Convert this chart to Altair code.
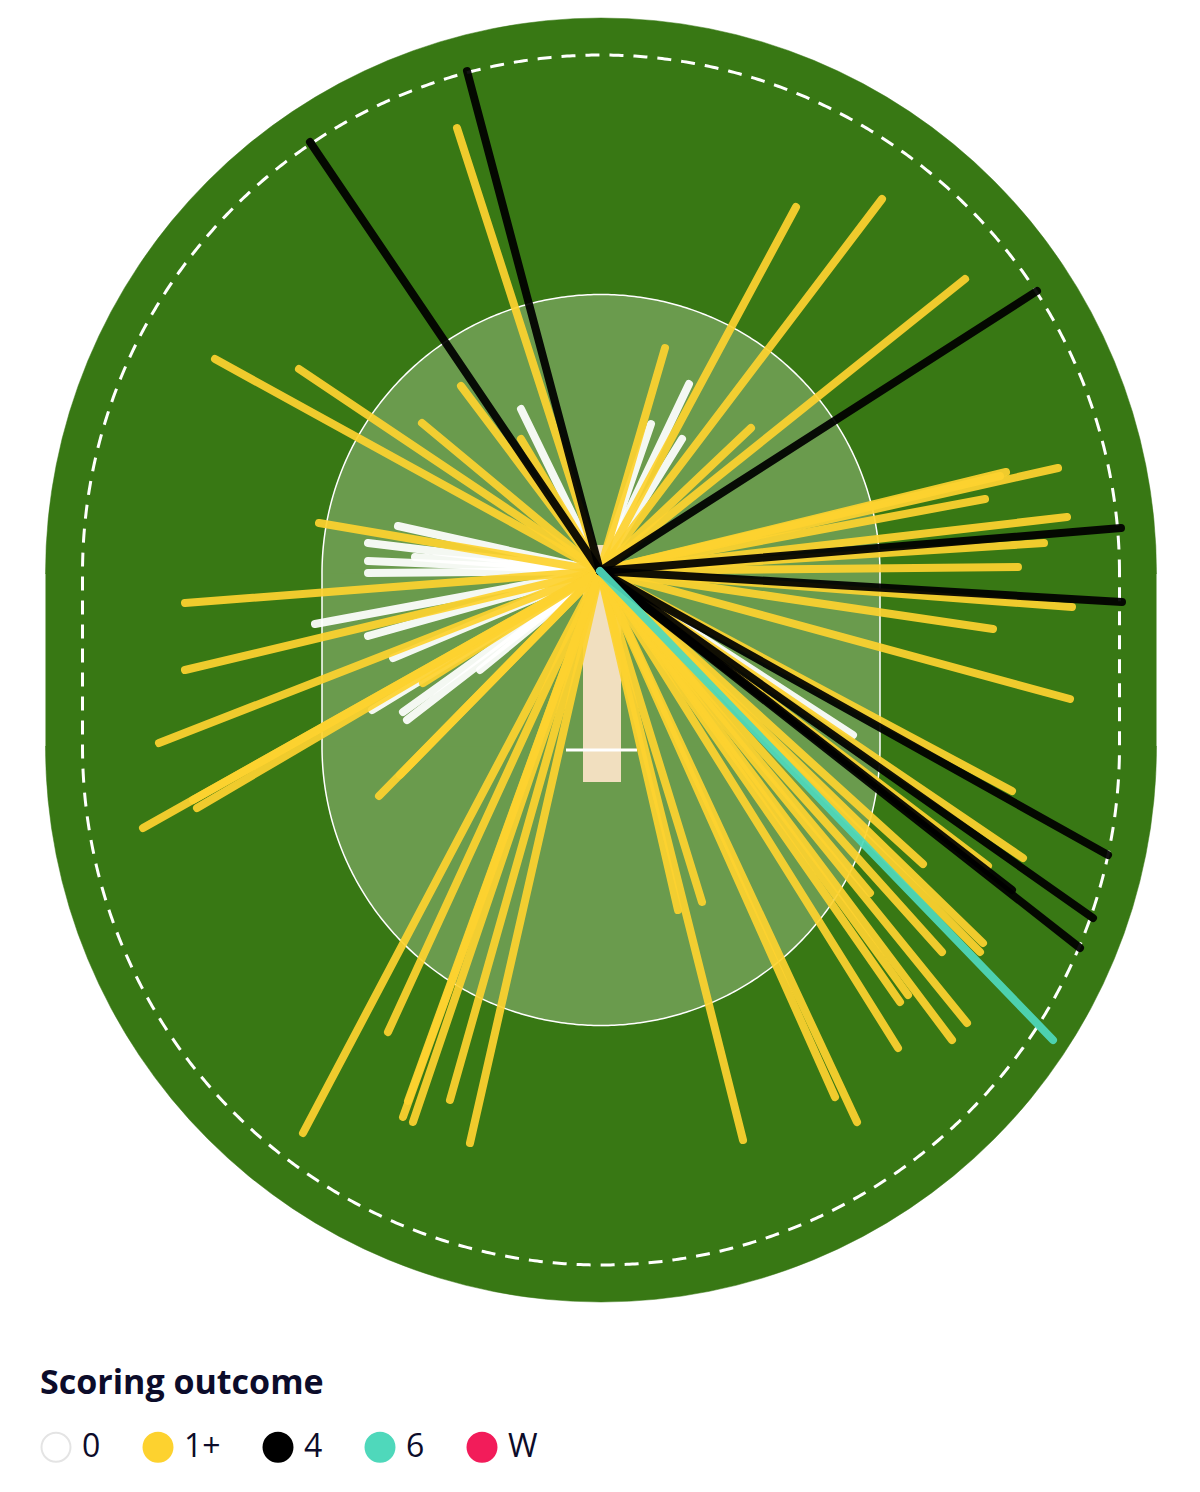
import altair as alt
import numpy as np
import pandas as pd

# ---------------- data: shot landing points relative to the striker ----------------
# x to the right (off side of the picture), y up the picture (towards the bowler)
dots_x = [-79, 89, 51, 82, -202, -232, -185, -232, -232, -285, -232, -207, -228, -197, -193, -120, 253]
dots_y = [162, 187, 147, 132, 45, 28, 14, 10, -2, -53, -65, -87, -139, -141, -149, -99, -164]

singles_x = [-143, -385, -301, -139, -178, -79, -281,
             -415, -415, -441, -457, -403, -407, -221, -200, -177,
             -297, -212, -197, -187, -150, -130, -192,
             78, 102, 143, 235, 257, 298, 300, 308, 352, 367, 342, 383, 380, 323, 270, 388, 423, 412,
             470, 393, 472, 418, 444, 467, 385, 458, 406, 400,
             365, 282, 196, 65, 151]
singles_y = [443, 212, 202, 185, 148, 132, 48,
             -32, -99, -172, -257, -237, -229, -225, -204, -112,
             -562, -461, -546, -551, -529, -572, -530,
             -339, -331, -569, -526, -551, -477, -431, -424, -469, -452, -381, -372, -381, -293, -322, -295, -287, -220,
             -128, -58, -36, 4, 28, 54, 72, 103, 99, 95,
             292, 372, 364, 223, 143]

fours_x = [-133, -290, 437, 521, 522, 508, 493, 480, 412]
fours_y = [500, 429, 280, 43, -31, -284, -347, -377, -319]

sixes_x = [453]
sixes_y = [-469]

outcomes = ["0", "1+", "4", "6", "W"]
outcome_colors = ["#ffffff", "#fdd22f", "#000000", "#4fd8bb", "#f21c5a"]
legend_strokes = ["#e4e4e4", "#fdd22f", "#000000", "#4fd8bb", "#f21c5a"]

# ---------------- field geometry (layout) ----------------
CX = 1.0          # centre line of the ground
TOP_CY = -2.5     # centre of the upper end arc
BOT_CY = -175.5   # centre of the lower end arc
FIELD_R = 555.5
ROPE_R = 518.5
INNER_R = 279.0

X_DOMAIN = [-592, 592]
Y_DOMAIN = [-921, 563]
W, H = 1184, 1484
PI = np.pi

xs = alt.Scale(domain=X_DOMAIN, nice=False, zero=False)
ys = alt.Scale(domain=Y_DOMAIN, nice=False, zero=False)


def stadium_outline(r, n=300):
    t1 = np.linspace(0, PI, n)
    t2 = np.linspace(PI, 2 * PI, n)
    xv = np.concatenate([CX + r * np.cos(t1), CX + r * np.cos(t2), [CX + r]])
    yv = np.concatenate([TOP_CY + r * np.sin(t1), BOT_CY + r * np.sin(t2), [TOP_CY]])
    return pd.DataFrame({"x": xv, "y": yv, "i": np.arange(len(xv))})


def stadium_fill(r, color):
    ends = pd.DataFrame({"cx": [CX, CX], "cy": [TOP_CY, BOT_CY],
                         "t0": [1.5 * PI, 0.5 * PI], "t1": [2.5 * PI, 1.5 * PI]})
    arcs = alt.Chart(ends).mark_arc(radius=r, color=color, stroke=color, strokeWidth=0.5).encode(
        x=alt.X("cx:Q", scale=xs, axis=None),
        y=alt.Y("cy:Q", scale=ys, axis=None),
        theta=alt.Theta("t0:Q", scale=None),
        theta2="t1:Q",
    )
    mid = pd.DataFrame({"x": [CX - r], "x2": [CX + r], "y": [TOP_CY + 0.5], "y2": [BOT_CY - 0.5]})
    body = alt.Chart(mid).mark_rect(color=color).encode(
        x=alt.X("x:Q", scale=xs, axis=None), x2="x2:Q",
        y=alt.Y("y:Q", scale=ys, axis=None), y2="y2:Q",
    )
    return [body, arcs]


field = stadium_fill(FIELD_R, "#387814")
inner = stadium_fill(INNER_R, "#6a9b4d")

inner_line = alt.Chart(stadium_outline(INNER_R)).mark_line(color="#ffffff", strokeWidth=1.5).encode(
    x=alt.X("x:Q", scale=xs, axis=None),
    y=alt.Y("y:Q", scale=ys, axis=None),
    order="i:Q",
)

rope = alt.Chart(stadium_outline(ROPE_R, 600)).mark_line(
    color="#ffffff", strokeWidth=3, strokeDash=[14, 10]
).encode(
    x=alt.X("x:Q", scale=xs, axis=None),
    y=alt.Y("y:Q", scale=ys, axis=None),
    order="i:Q",
)

pitch_df = pd.DataFrame({"x": [-17], "x2": [21], "y": [26], "y2": [-211]})
pitch = alt.Chart(pitch_df).mark_rect(color="#f1dfbf").encode(
    x=alt.X("x:Q", scale=xs, axis=None), x2="x2:Q",
    y=alt.Y("y:Q", scale=ys, axis=None), y2="y2:Q",
)

crease_df = pd.DataFrame({"x": [-34], "x2": [37], "y": [-179]})
crease = alt.Chart(crease_df).mark_rule(color="#ffffff", strokeWidth=3).encode(
    x=alt.X("x:Q", scale=xs, axis=None), x2="x2:Q",
    y=alt.Y("y:Q", scale=ys, axis=None),
)

# shots table, drawn in the order dots, singles, fours, sixes
rows = []
for lab, xx, yy in [("0", dots_x, dots_y), ("1+", singles_x, singles_y),
                    ("4", fours_x, fours_y), ("6", sixes_x, sixes_y)]:
    for a, b in zip(xx, yy):
        rows.append({"outcome": lab, "x": a, "y": b, "x0": 0, "y0": 0})
shots = pd.DataFrame(rows)

# the drawn outcomes (no wicket in this innings); own domain so its hidden legend stays separate
drawn = outcomes[:4]
lines = alt.Chart(shots).mark_rule(strokeWidth=8, strokeCap="round", opacity=0.93).encode(
    x=alt.X("x0:Q", scale=xs, axis=None),
    y=alt.Y("y0:Q", scale=ys, axis=None),
    x2="x:Q",
    y2="y:Q",
    color=alt.Color("outcome:N", scale=alt.Scale(domain=drawn, range=outcome_colors[:4]), legend=None),
)


def make_legend():
    return alt.Legend(
        title="Scoring outcome",
        orient="none",
        legendX=32,
        legendY=1359,
        direction="horizontal",
        titleFont="Open Sans",
        titleFontSize=34,
        titleFontWeight="bold",
        titleColor="#0c0c2a",
        titleLimit=800,
        titlePadding=30,
        labelFont="Open Sans",
        labelFontSize=32,
        labelColor="#0c0c2a",
        labelOffset=10,
        columnPadding=38,
        symbolType="circle",
        symbolSize=840,
        symbolOpacity=1,
        symbolStrokeWidth=2,
    )


# legend carrier: zero-size circles at the striker's position
legend_df = pd.DataFrame({"outcome": outcomes, "x": [0] * 5, "y": [0] * 5})
legend_layer = alt.Chart(legend_df).mark_circle(size=0, opacity=1, strokeWidth=2).encode(
    x=alt.X("x:Q", scale=xs, axis=None),
    y=alt.Y("y:Q", scale=ys, axis=None),
    fill=alt.Fill("outcome:N", scale=alt.Scale(domain=outcomes, range=outcome_colors), legend=make_legend()),
    stroke=alt.Stroke("outcome:N", scale=alt.Scale(domain=outcomes, range=legend_strokes), legend=make_legend()),
)

chart = alt.layer(*field, *inner, rope, pitch, crease, inner_line, lines, legend_layer).properties(
    width=W, height=H, padding=0
).configure_view(strokeWidth=0)

chart.save("out.html", embed_options={"renderer": "svg", "actions": False})
